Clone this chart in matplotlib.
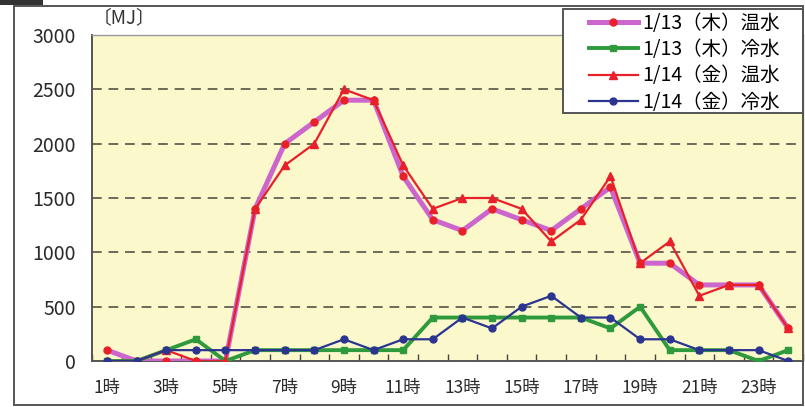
import matplotlib.pyplot as plt
from matplotlib.patches import Rectangle
import numpy as np

plt.rcParams['font.family'] = ['Noto Sans CJK JP', 'DejaVu Sans']

hours = [f"{h}時" for h in range(1, 25)]

# 1/13 (Thu) hot water, MJ
hot_13 = [100, 0, 0, 0, 0, 1400, 2000, 2200, 2400, 2400, 1700, 1300,
          1200, 1400, 1300, 1200, 1400, 1600, 900, 900, 700, 700, 700, 300]
# 1/13 (Thu) chilled water
cold_13 = [0, 0, 100, 200, 0, 100, 100, 100, 100, 100, 100, 400,
           400, 400, 400, 400, 400, 300, 500, 100, 100, 100, 0, 100]
# 1/14 (Fri) hot water
hot_14 = [0, 0, 100, 0, 0, 1400, 1800, 2000, 2500, 2400, 1800, 1400,
          1500, 1500, 1400, 1100, 1300, 1700, 900, 1100, 600, 700, 700, 300]
# 1/14 (Fri) chilled water
cold_14 = [0, 0, 100, 100, 100, 100, 100, 100, 200, 100, 200, 200,
           400, 300, 500, 600, 400, 400, 200, 200, 100, 100, 100, 0]

labels = ["1/13（木）温水", "1/13（木）冷水", "1/14（金）温水", "1/14（金）冷水"]

fig = plt.figure(figsize=(8.05, 4.07), dpi=100)
ax = fig.add_axes([92.2 / 805, 1 - 361 / 407, (803 - 92.2) / 805, (361 - 35) / 407])
ax.set_facecolor('#fbf8cc')

x = np.arange(len(hours))
ax.plot(x, hot_13, color='#cc66cc', lw=3.6, marker='o', ms=5,
        mfc='#e8202a', mec='#e8202a', label=labels[0], zorder=3)
ax.plot(x, cold_13, color='#2f9a3c', lw=2.8, marker='s', ms=5,
        mfc='#2f9a3c', mec='#2f9a3c', label=labels[1], zorder=3)
ax.plot(x, hot_14, color='#e8202a', lw=1.6, marker='^', ms=5.5,
        mfc='#e8202a', mec='#e8202a', label=labels[2], zorder=4)
ax.plot(x, cold_14, color='#2b3590', lw=1.6, marker='o', ms=5,
        mfc='#2b3590', mec='#2b3590', label=labels[3], zorder=4)

ax.set_xlim(-0.5, 23.5)
ax.set_ylim(0, 3000)
ax.set_yticks(range(0, 3001, 500))
ax.tick_params(axis='y', length=0, pad=12, labelsize=14, colors='#2a2a2a')

ax.set_xticks(x[::2])
ax.set_xticklabels(hours[::2])
ax.set_xticks(np.arange(-0.5, 24, 1), minor=True)
ax.tick_params(axis='x', which='major', length=0, pad=13, labelsize=12.5, colors='#2a2a2a')
ax.tick_params(axis='x', which='minor', direction='in', length=5, width=1, color='#444444')

for yv in range(500, 3000, 500):
    ax.axhline(yv, color='#6b6b5a', lw=1.4, ls=(0, (5, 3.5)), zorder=1)

for side in ['left', 'bottom']:
    ax.spines[side].set_color('#555555')
    ax.spines[side].set_linewidth(1.4)
for side in ['top', 'right']:
    ax.spines[side].set_color('#999999')
    ax.spines[side].set_linewidth(1.0)

fig.text(93 / 805, 1 - 18 / 407, "〔MJ〕", fontsize=13.5, color='#333333', va='center', ha='left')

# legend box drawn separately so the padding can be wider on the right
box = Rectangle((563 / 805, 1 - 113 / 407), 240 / 805, 104 / 407,
                transform=fig.transFigure, facecolor='white',
                edgecolor='#555555', lw=1.4, zorder=5, clip_on=False)
ax.add_patch(box)
leg = ax.legend(loc='upper left', bbox_to_anchor=(589 / 805, 1 - 13 / 407),
                bbox_transform=fig.transFigure, frameon=False,
                fontsize=14, handlelength=2.5, labelspacing=0.27,
                borderpad=0, handletextpad=0.25, borderaxespad=0)
leg.set_zorder(6)

# outer frame and the small tab at the top left
fig.patches.append(Rectangle((14 / 805, 1 - 405 / 407), (803 - 14) / 805, (405 - 6) / 407,
                             transform=fig.transFigure, fill=False,
                             edgecolor='#555555', lw=1.4))
fig.patches.append(Rectangle((0, 1 - 5 / 407), 43 / 805, 5 / 407,
                             transform=fig.transFigure, facecolor='#333333', edgecolor='none'))

fig.savefig('out.png', dpi=100)
